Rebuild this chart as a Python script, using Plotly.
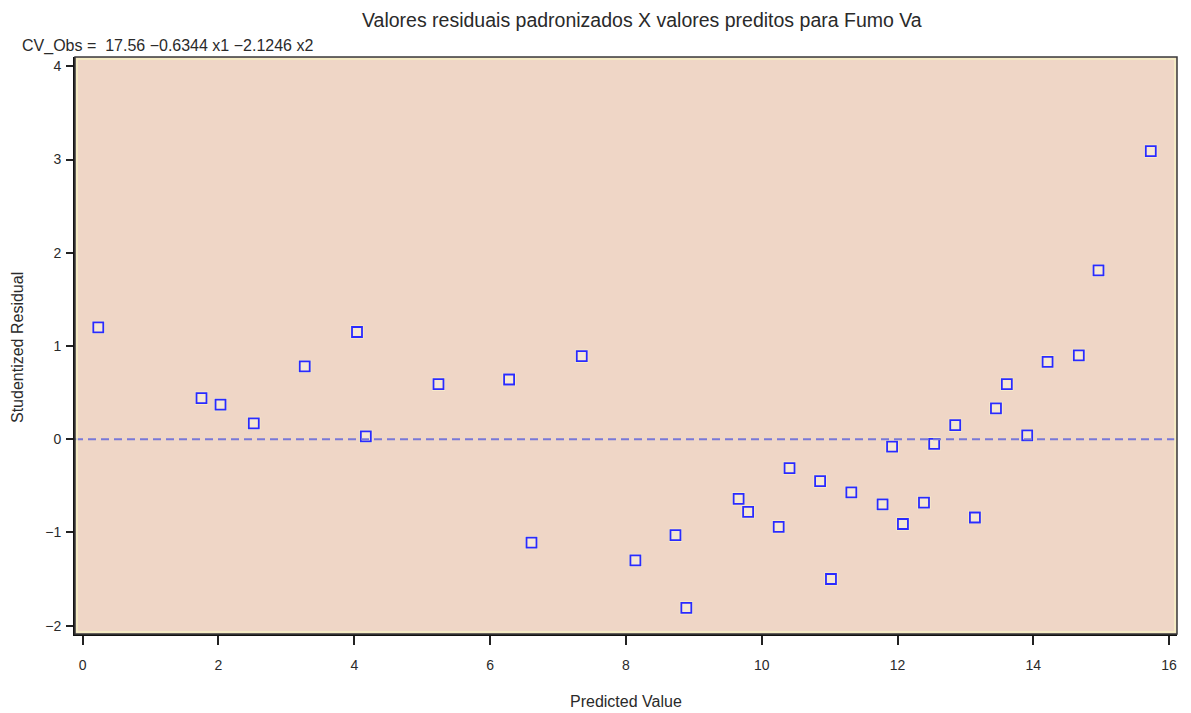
import plotly.graph_objects as go

# Predicted values and studentized residuals
predicted = [0.23, 1.75, 2.03, 2.52, 3.27, 4.04, 4.17, 5.24, 6.28, 6.61,
             7.35, 8.14, 8.73, 8.89, 9.66, 9.80, 10.25, 10.41, 10.86, 11.02,
             11.32, 11.78, 11.92, 12.08, 12.39, 12.54, 12.85, 13.14, 13.45, 13.61,
             13.91, 14.21, 14.67, 14.96, 15.73]
residual = [1.20, 0.44, 0.37, 0.17, 0.78, 1.15, 0.03, 0.59, 0.64, -1.11,
            0.89, -1.30, -1.03, -1.81, -0.64, -0.78, -0.94, -0.31, -0.45, -1.50,
            -0.57, -0.70, -0.08, -0.91, -0.68, -0.05, 0.15, -0.84, 0.33, 0.59,
            0.04, 0.83, 0.90, 1.81, 3.09]

x_ticks = [0, 2, 4, 6, 8, 10, 12, 14, 16]
y_ticks = [-2, -1, 0, 1, 2, 3, 4]
y_tick_text = ["\u22122", "\u22121", "0", "1", "2", "3", "4"]

title_text = "Valores residuais padronizados X valores preditos para Fumo Va"
equation_text = "CV_Obs =  17.56 \u22120.6344 x1 \u22122.1246 x2"

FONT = "Liberation Sans, Arial, sans-serif"
TEXT = "#2a2a2a"
BG = "#efd6c6"

# plot area in pixels (used to place the free-floating labels)
L, R, T, B = 75, 1177, 57, 634
PW, PH = R - L, B - T

fig = go.Figure()

# soft pale halo behind each marker
fig.add_trace(go.Scatter(
    x=predicted, y=residual, mode="markers",
    marker=dict(symbol="square", size=13, color="rgba(252,246,205,0.9)",
                line=dict(width=0)),
    hoverinfo="skip", showlegend=False,
))
fig.add_trace(go.Scatter(
    x=predicted, y=residual, mode="markers",
    marker=dict(symbol="square", size=10, color="rgba(246,232,212,1)",
                line=dict(width=1.8, color="#2a2aff")),
    showlegend=False,
))

# reference line at zero
fig.add_hline(y=0, line=dict(color="#7878d8", width=2, dash="8px,5px"))

# frame: dark outline with a thin cream edge just inside
fig.add_shape(type="rect", xref="paper", yref="paper",
              x0=2 / PW, x1=1 - 2 / PW, y0=2 / PH, y1=1 - 2 / PH,
              line=dict(color="#f8f2c4", width=1.5), layer="above")
fig.add_shape(type="rect", xref="paper", yref="paper", x0=0, x1=1, y0=0, y1=1,
              line=dict(color="#3a3a3a", width=1.5), layer="above")

fig.update_layout(
    width=1191, height=713,
    margin=dict(l=L, r=1191 - R, t=T, b=713 - B),
    paper_bgcolor="white", plot_bgcolor=BG,
    font=dict(family=FONT, size=13, color=TEXT),
    showlegend=False,
    xaxis=dict(
        range=[-0.113, 16.116], tickvals=x_ticks,
        ticks="outside", ticklen=9, tickwidth=1.5, tickcolor="#222",
        showgrid=False, zeroline=False,
        showline=True, linecolor="#111", linewidth=2,
        ticklabelstandoff=8,
        tickfont=dict(size=14, color=TEXT),
    ),
    yaxis=dict(
        range=[-2.09, 4.10], tickvals=y_ticks, ticktext=y_tick_text,
        ticks="outside", ticklen=7, tickwidth=1.5, tickcolor="#222",
        showgrid=False, zeroline=False,
        showline=True, linecolor="#111", linewidth=2,
        ticklabelstandoff=2,
        tickfont=dict(size=14, color=TEXT),
    ),
    annotations=[
        dict(text=title_text, xref="paper", yref="paper",
             x=(642 - L) / PW, y=1 + (T - 20) / PH,
             xanchor="center", yanchor="middle", showarrow=False,
             font=dict(size=19.5, color=TEXT)),
        dict(text=equation_text, xref="paper", yref="paper",
             x=(20 - L) / PW, y=1 + (T - 46) / PH,
             xanchor="left", yanchor="middle", showarrow=False,
             font=dict(size=16, color=TEXT)),
        dict(text="Predicted Value", xref="paper", yref="paper",
             x=(626 - L) / PW, y=-(701 - B) / PH,
             xanchor="center", yanchor="middle", showarrow=False,
             font=dict(size=16, color=TEXT)),
        dict(text="Studentized Residual", xref="paper", yref="paper",
             x=-(L - 17) / PW, y=(B - 348) / PH, textangle=-90,
             xanchor="center", yanchor="middle", showarrow=False,
             font=dict(size=16, color=TEXT)),
    ],
)

fig.write_html("out.html")
